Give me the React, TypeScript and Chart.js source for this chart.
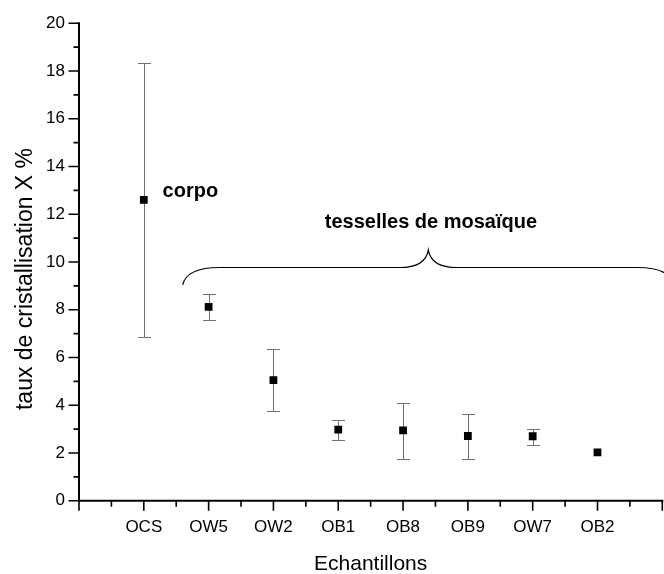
import React, { useEffect, useRef } from 'react';
import { Chart, registerables } from 'chart.js';

Chart.register(...registerables);

// ---- Data ----
const categories = ['OCS', 'OW5', 'OW2', 'OB1', 'OB8', 'OB9', 'OW7', 'OB2'];
const xPositions = [1, 2, 3, 4, 5, 6, 7, 8];
const values = [12.6, 8.12, 5.05, 2.98, 2.95, 2.71, 2.7, 2.02];
const errLow: (number | null)[] = [6.86, 7.56, 3.75, 2.56, 1.74, 1.74, 2.32, null];
const errHigh: (number | null)[] = [18.35, 8.65, 6.35, 3.38, 4.08, 3.62, 3.02, null];
const yTickValues = [0, 2, 4, 6, 8, 10, 12, 14, 16, 18, 20];
const xAxisTitle = 'Echantillons';
const yAxisTitle = 'taux de cristallisation X %';
const noteTexts = ['corpo', 'tesselles de mosaïque'];
const noteX = [1.29, 5.43];
const noteY = [12.72, 11.42];
// curly brace anchor points (data coordinates): left end, left flat start, left flat end, tip, right flat start, right flat end, right end
const braceX = [1.6, 2.17, 4.95, 5.39, 5.83, 8.61, 9.18];
const braceY = [9.04, 9.77, 9.77, 10.5, 9.77, 9.77, 9.04];

const FONT = "'Liberation Sans', Arial, Helvetica, sans-serif";

const overlayPlugin = {
  id: 'overlay',
  beforeDatasetsDraw(chart: any) {
    const ctx = chart.ctx;
    const xs = chart.scales.x;
    const ys = chart.scales.y;
    ctx.save();
    ctx.strokeStyle = '#707070';
    ctx.lineWidth = 1;
    for (let i = 0; i < xPositions.length; i++) {
      const lo = errLow[i];
      const hi = errHigh[i];
      if (lo == null || hi == null) continue;
      const px = Math.round(xs.getPixelForValue(xPositions[i])) + 0.5;
      const pLo = Math.round(ys.getPixelForValue(lo)) + 0.5;
      const pHi = Math.round(ys.getPixelForValue(hi)) + 0.5;
      ctx.beginPath();
      ctx.moveTo(px, pLo);
      ctx.lineTo(px, pHi);
      ctx.moveTo(px - 6.5, pLo);
      ctx.lineTo(px + 6.5, pLo);
      ctx.moveTo(px - 6.5, pHi);
      ctx.lineTo(px + 6.5, pHi);
      ctx.stroke();
    }
    ctx.restore();
  },
  afterDraw(chart: any) {
    const ctx = chart.ctx;
    const xs = chart.scales.x;
    const ys = chart.scales.y;
    const x0 = xs.getPixelForValue(xs.min);
    const x1 = xs.getPixelForValue(xs.max);
    const y0 = ys.getPixelForValue(ys.min);
    const y1 = ys.getPixelForValue(ys.max);
    ctx.save();
    ctx.strokeStyle = '#000';
    ctx.lineWidth = 2;
    ctx.lineCap = 'square';
    // axes
    ctx.beginPath();
    ctx.moveTo(x0, y1);
    ctx.lineTo(x0, y0);
    ctx.lineTo(x1, y0);
    ctx.stroke();
    ctx.lineCap = 'butt';
    ctx.lineWidth = 1.6;
    // y ticks
    ctx.beginPath();
    for (let v = ys.min; v <= ys.max + 1e-9; v += 1) {
      const p = ys.getPixelForValue(v);
      const major = yTickValues.includes(v);
      ctx.moveTo(x0, p);
      ctx.lineTo(x0 - (major ? 10.5 : 5.5), p);
    }
    // x ticks
    for (let v = xs.min; v <= xs.max + 1e-9; v += 0.5) {
      const p = xs.getPixelForValue(v);
      const major = Number.isInteger(v);
      ctx.moveTo(p, y0);
      ctx.lineTo(p, y0 + (major ? 10 : 6));
    }
    ctx.stroke();

    // axis titles
    ctx.fillStyle = '#000';
    ctx.textAlign = 'center';
    ctx.textBaseline = 'alphabetic';
    ctx.font = `21px ${FONT}`;
    ctx.fillText(xAxisTitle, (x0 + x1) / 2, 570);
    ctx.save();
    ctx.translate(32, 279);
    ctx.rotate(-Math.PI / 2);
    ctx.font = `23px ${FONT}`;
    ctx.fillText(yAxisTitle, 0, 0);
    ctx.restore();

    // notes
    ctx.font = `bold 20px ${FONT}`;
    ctx.textAlign = 'left';
    ctx.fillText(noteTexts[0], xs.getPixelForValue(noteX[0]), ys.getPixelForValue(noteY[0]));
    ctx.textAlign = 'center';
    ctx.fillText(noteTexts[1], xs.getPixelForValue(noteX[1]), ys.getPixelForValue(noteY[1]));

    // brace
    const P = braceX.map((bx, i) => [xs.getPixelForValue(bx), ys.getPixelForValue(braceY[i])]);
    ctx.strokeStyle = '#000';
    ctx.lineWidth = 1.2;
    ctx.beginPath();
    ctx.moveTo(P[0][0], P[0][1]);
    ctx.quadraticCurveTo(P[0][0] + 4, P[1][1], P[1][0], P[1][1]);
    ctx.lineTo(P[2][0], P[2][1]);
    ctx.quadraticCurveTo(P[3][0] - 3, P[2][1], P[3][0], P[3][1]);
    ctx.quadraticCurveTo(P[3][0] + 3, P[4][1], P[4][0], P[4][1]);
    ctx.lineTo(P[5][0], P[5][1]);
    ctx.quadraticCurveTo(P[6][0] - 4, P[5][1], P[6][0], P[6][1]);
    ctx.stroke();
    ctx.restore();
  },
};

export default function App() {
  const canvasRef = useRef<HTMLCanvasElement | null>(null);

  useEffect(() => {
    const canvas = canvasRef.current;
    if (!canvas) return;
    const chart = new Chart(canvas, {
      type: 'scatter',
      data: {
        datasets: [
          {
            data: xPositions.map((x, i) => ({ x, y: values[i] })),
            pointStyle: 'rect',
            pointRadius: 5.5,
            pointHoverRadius: 5.5,
            backgroundColor: '#000',
            borderColor: '#000',
            borderWidth: 0,
            showLine: false,
          },
        ],
      },
      options: {
        responsive: false,
        animation: false,
        devicePixelRatio: 1,
        layout: { autoPadding: false, padding: { top: 23.3, right: 1.7, left: 0, bottom: 0 } },
        plugins: {
          legend: { display: false },
          tooltip: { enabled: false },
          title: { display: false },
        },
        scales: {
          x: {
            type: 'linear',
            min: 0,
            max: 9,
            grid: { display: false, drawTicks: false },
            border: { display: false },
            afterFit: (scale: any) => {
              scale.height = 73.3;
              scale.paddingLeft = 0;
              scale.paddingRight = 0;
            },
            ticks: {
              stepSize: 1,
              autoSkip: false,
              maxRotation: 0,
              padding: 16,
              color: '#000',
              font: { family: FONT, size: 17 },
              callback: (v: any) => {
                const idx = xPositions.indexOf(Number(v));
                return idx >= 0 ? categories[idx] : '';
              },
            },
          },
          y: {
            type: 'linear',
            min: 0,
            max: 20,
            grid: { display: false, drawTicks: false },
            border: { display: false },
            afterFit: (scale: any) => {
              scale.width = 79;
              scale.paddingTop = 0;
              scale.paddingBottom = 0;
            },
            afterBuildTicks: (scale: any) => {
              scale.ticks = yTickValues.map((v) => ({ value: v }));
            },
            ticks: {
              padding: 14,
              color: '#000',
              font: { family: FONT, size: 17 },
            },
          },
        },
      },
      plugins: [overlayPlugin],
    });
    return () => chart.destroy();
  }, []);

  return (
    <div style={{ position: 'fixed', left: 0, top: 0, width: 664, height: 574, background: '#fff' }}>
      <canvas ref={canvasRef} width={664} height={574} />
    </div>
  );
}
